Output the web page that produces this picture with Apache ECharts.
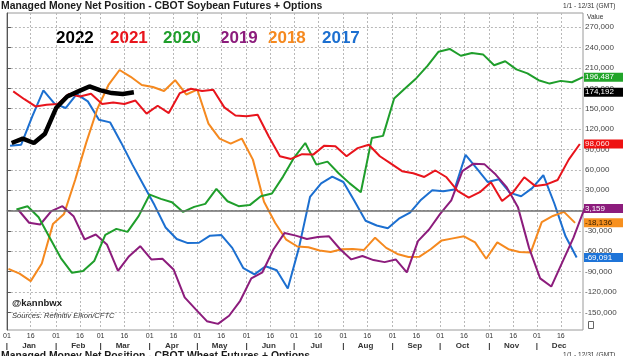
<!DOCTYPE html>
<html><head><meta charset="utf-8">
<script src="https://cdn.jsdelivr.net/npm/echarts@6/dist/echarts.min.js"></script>
<style>html,body{margin:0;padding:0;background:#fff}#c{width:624px;height:356px}</style>
</head><body><div id="c"></div>
<script>
// ---- data ----
const years = ['2022','2021','2020','2019','2018','2017'];
const colors = ['#000000','#e8141c','#1f9e2b','#8c1c7c','#f5891f','#1c6fd0'];
// day-of-year of each year's first weekly report (CFTC Tuesdays)
const startDays = [3, 4, 6, 7, 1, 2];
const v2022 = [99500,105900,99500,113200,151000,168000,175500,182800,177000,173000,171600,174192];
const v2021 = [175500,164000,153400,156000,157000,171600,168000,172000,157000,159300,157000,162000,142700,154400,143600,173000,179400,176000,178000,152000,140000,139000,141000,109000,80000,76000,83000,82400,95600,94600,80000,92000,97000,80000,69000,58000,55000,49500,59000,49000,29000,19000,27000,41700,14000,27000,49000,36000,38500,45000,75000,98060];
const v2020 = [1500,6400,-10000,-40000,-70000,-91700,-89200,-74500,-36000,-27000,-31400,-8300,23500,17200,12300,-2000,5400,9800,31900,13700,6400,8000,21000,25000,50000,78000,99500,67600,72000,55000,40000,27000,107000,110000,165000,180000,195000,213000,234000,238000,228000,232000,230000,214000,220000,208000,202000,192000,187000,191000,189000,196487];
const v2019 = [1500,-18000,-20600,-1000,6400,-8300,-42600,-35300,-50000,-89000,-67200,-52500,-72000,-71000,-86800,-128000,-145600,-163000,-167000,-155000,-133000,-100000,-91000,-57000,-33000,-37000,-42000,-39000,-38000,-57000,-72000,-67000,-73000,-76000,-72000,-91000,-45000,-28000,-5000,15000,58000,69000,68000,53000,34000,5000,-55000,-100000,-112000,-76000,-40000,3159];
const v2018 = [-86000,-93000,-104000,-78000,-20000,-5000,45000,100000,150000,185000,207000,197000,185000,182000,176000,192000,171000,178000,128000,106000,98500,106000,75000,13000,-18000,-43000,-53000,-54000,-59000,-61000,-57000,-56500,-58000,-40000,-55000,-64000,-68500,-68000,-57000,-44000,-41000,-38000,-47000,-71000,-47000,-57000,-61000,-62000,-17000,-8000,-2000,-18136];
const v2017 = [95600,97000,138700,177000,157400,151000,171600,160800,133800,129900,100000,68000,38000,8000,-25000,-42000,-48000,-47500,-37000,-36000,-55000,-85000,-94000,-82000,-88000,-115000,-55000,20000,40000,50000,42000,14000,-15000,-22000,-26000,-12000,-3000,16000,30000,28500,31000,82000,62000,42000,46000,26000,21000,33000,52000,10000,-38000,-69091];
const allValues = [v2022, v2021, v2020, v2019, v2018, v2017];

const tickDays = [0,15,31,46,59,74,90,105,120,135,151,166,181,196,212,227,243,258,273,288,304,319,334,349];
const tickLabels = ['01','16','01','16','01','16','01','16','01','16','01','16','01','16','01','16','01','16','01','16','01','16','01','16'];
const monthStartDays = [0,31,59,90,120,151,181,212,243,273,304,334];
const monthMidDays = [14,45,73,104,134,165,195,226,257,287,318,348];
const monthNames = ['Jan','Feb','Mar','Apr','May','Jun','Jul','Aug','Sep','Oct','Nov','Dec'];
const yTicks = [-150000,-120000,-90000,-60000,-30000,0,30000,60000,90000,120000,150000,180000,210000,240000,270000];

const endLabelBg = ['#000000','#ee1111','#22a52a','#8c1c7c','#f7901e','#1e74d8'];
const endLabelFg = ['#ffffff','#ffe6e6','#ffffff','#ffffff','#3a2000','#ffffff'];

// ---- chart ----
const FONT = "'Liberation Sans', Arial, sans-serif";
const tickText = {}; tickDays.forEach((d,i)=>{ tickText[d] = tickLabels[i]; });
const monthText = {};
monthStartDays.forEach(d=>{ monthText[d] = '|'; });
monthMidDays.forEach((d,i)=>{ monthText[d] = monthNames[i]; });
const fmt = v => Number(v).toLocaleString('en-US');

const series = [];
for (let i = years.length - 1; i >= 0; i--) {
  const vals = allValues[i];
  series.push({
    type: 'line', name: years[i], showSymbol: false, symbol: 'none',
    data: vals.map((v, j) => [startDays[i] + 7 * j, v]),
    lineStyle: { color: colors[i], width: i === 0 ? 4.5 : 2 },
    itemStyle: { color: colors[i] },
    z: i === 0 ? 10 : 3,
    markLine: {
      silent: true, symbol: 'none', animation: false,
      lineStyle: { color: 'rgba(0,0,0,0)', width: 0 },
      label: {
        show: true, position: 'end', distance: 1,
        formatter: () => fmt(vals[vals.length - 1]),
        fontSize: 8, fontFamily: FONT, color: endLabelFg[i],
        backgroundColor: endLabelBg[i], padding: [1, 6, 0, 1], width: 32
      },
      data: [{ yAxis: vals[vals.length - 1] }]
    }
  });
}
// zero line
series.push({
  type: 'line', data: [], silent: true,
  markLine: { silent: true, symbol: 'none', animation: false,
    lineStyle: { color: '#6e6e6e', width: 1.5, type: 'solid' },
    label: { show: false }, data: [{ yAxis: 0 }] },
  z: 2
});

const legendX = [56, 110, 163, 220, 268, 322];
const graphics = years.map((y, i) => ({
  type: 'text', left: legendX[i], top: 30,
  style: { text: y, fill: colors[i], font: "bold 17px " + FONT }
}));
graphics.push(
  { type: 'text', left: 1, top: 1, style: { text: 'Managed Money Net Position - CBOT Soybean Futures + Options', fill: '#1a1a1a', font: 'bold 10.4px ' + FONT } },
  { type: 'text', left: 563, top: 3, style: { text: '1/1 - 12/31 (GMT)', fill: '#333', font: '6.6px ' + FONT } },
  { type: 'text', left: 587, top: 14, style: { text: 'Value', fill: '#333', font: '6.6px ' + FONT } },
  { type: 'text', left: 12, top: 298, style: { text: '@kannbwx', fill: '#1a1a1a', font: 'bold 9.5px ' + FONT } },
  { type: 'text', left: 12, top: 312, style: { text: 'Sources: Refinitiv Eikon/CFTC', fill: '#333', font: 'italic 7.6px ' + FONT } },
  { type: 'text', left: 1, top: 351, style: { text: 'Managed Money Net Position - CBOT Wheat Futures + Options', fill: '#1a1a1a', font: 'bold 10.4px ' + FONT } },
  { type: 'text', left: 563, top: 352, style: { text: '1/1 - 12/31 (GMT)', fill: '#333', font: '6.6px ' + FONT } },
  { type: 'rect', left: 588, top: 321, shape: { width: 5, height: 7 }, style: { fill: '#fff', stroke: '#666', lineWidth: 1 } }
);

const chart = echarts.init(document.getElementById('c'), null, { renderer: 'canvas' });
chart.setOption({
  animation: false,
  backgroundColor: '#ffffff',
  grid: { left: 2, right: 41, top: 13, bottom: 26, show: true, borderColor: '#9a9a9a', borderWidth: 1 },
  xAxis: [
    { type: 'value', min: 0, max: 363, position: 'bottom',
      axisLine: { show: false },
      axisTick: { show: true, length: 0, customValues: tickDays },
      axisLabel: { customValues: tickDays, formatter: v => tickText[v] || '', fontSize: 7, color: '#333', margin: 3, fontFamily: FONT },
      splitLine: { show: true, lineStyle: { color: '#b8b8b8', type: [2, 2], width: 1 } } },
    { type: 'value', min: 0, max: 363, position: 'bottom', offset: 9,
      axisLine: { show: false }, axisTick: { show: false }, splitLine: { show: false },
      axisLabel: { customValues: monthStartDays.concat(monthMidDays), formatter: v => monthText[v] || '', fontSize: 8, fontWeight: 'bold', color: '#333', margin: 3, fontFamily: FONT } }
  ],
  yAxis: { type: 'value', position: 'right', min: -176000, max: 291000,
    axisLine: { show: true, lineStyle: { color: '#555', width: 1 } },
    axisTick: { show: true, length: 4, customValues: yTicks, lineStyle: { color: '#555' } },
    axisLabel: { customValues: yTicks, formatter: fmt, fontSize: 8, color: '#444', margin: 2, fontFamily: FONT },
    splitLine: { show: true, lineStyle: { color: '#b8b8b8', type: [2, 2], width: 1 } } },
  graphic: graphics,
  series: series
});
</script></body></html>
